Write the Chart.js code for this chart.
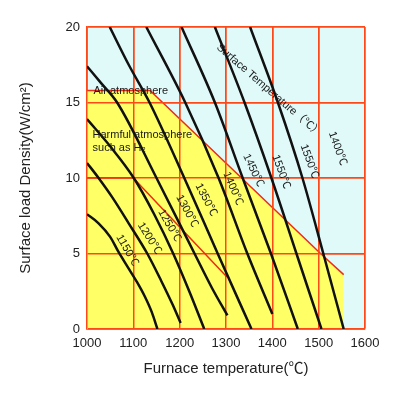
<!DOCTYPE html>
<html>
<head>
<meta charset="utf-8">
<script src="https://cdn.jsdelivr.net/npm/chart.js@4"></script>
<style>
    html, body { margin: 0; padding: 0; background: #fff; }
</style>
</head>
<body>
<canvas id="lineChart" width="400" height="396"></canvas>
<script>
// Trục
var xTicks = [1000, 1100, 1200, 1300, 1400, 1500, 1600];
var yTicks = [0, 5, 10, 15, 20];

// Các đường nhiệt độ bề mặt: x = nhiệt độ lò, y = mật độ tải bề mặt
var c1150X = [1000, 1025, 1050, 1068, 1088, 1108, 1124, 1140, 1152];
var c1150Y = [7.6, 7.0, 6.1, 5.1, 4.1, 3.1, 2.2, 1.1, 0];
var c1200X = [1000, 1025, 1055, 1090, 1130, 1160, 1185, 1202];
var c1200Y = [11.0, 10.0, 8.7, 7.0, 5.0, 3.2, 1.6, 0.4];
var c1250X = [1000, 1050, 1101, 1145, 1186, 1222, 1253];
var c1250Y = [13.9, 12.1, 10.0, 7.6, 5.0, 2.4, 0];
var c1300X = [1000, 1030, 1065, 1150, 1232, 1270, 1303];
var c1300Y = [17.4, 16.3, 15.0, 10.0, 5.0, 2.7, 0.9];
var c1350X = [1049, 1090, 1135, 1210, 1282, 1355];
var c1350Y = [20, 17.5, 15, 10, 5, 0];
var c1400X = [1128, 1212, 1284, 1346, 1400];
var c1400Y = [20, 15, 10, 5, 1.0];
var c1450X = [1204, 1276, 1336, 1397, 1455];
var c1450Y = [20, 15, 10, 5, 0];
var c1500X = [1276, 1340, 1398, 1452, 1506];
var c1500Y = [20, 15, 10, 5, 0];
var c1550X = [1352, 1412, 1465, 1510, 1554];
var c1550Y = [20, 15, 10, 5, 0];

// Vùng không khí (vàng) và giới hạn khí có hại
var airX = [1000, 1136, 1504, 1554];
var airY = [15.8, 15.8, 5.0, 3.6];
var harmX = [1000, 1100, 1302];
var harmY = [10, 10, 3.45];

// Nhãn chữ trên biểu đồ
var labelTexts = ['1150℃', '1200℃', '1250℃', '1300℃', '1350℃', '1400℃', '1450℃', '1550℃', '1550℃', '1400℃'];
var labelX = [1087, 1135, 1178, 1216, 1257, 1315, 1359, 1419, 1480, 1541];
var labelY = [5.2, 6.0, 6.85, 7.8, 8.55, 9.3, 10.5, 10.4, 11.1, 11.95];
var labelAngle = [60, 58, 60, 62, 63, 67, 65, 70, 70, 70];

var FONT = '"Liberation Sans", Arial, "Noto Sans CJK SC", sans-serif';
var GRID = 'rgb(255, 72, 24)';

function pts(xs, ys) {
    return xs.map(function (x, i) { return { x: x, y: ys[i] }; });
}

function curve(xs, ys) {
    return {
        data: pts(xs, ys),
        borderColor: '#111',
        borderWidth: 2.5,
        pointRadius: 0,
        fill: false,
        cubicInterpolationMode: 'monotone',
        order: 0
    };
}

// Nền xanh nhạt, lưới vẽ đè lên vùng vàng, và các nhãn chữ
var extrasPlugin = {
    id: 'extras',
    beforeDraw: function (chart) {
        var a = chart.chartArea, ctx = chart.ctx;
        ctx.save();
        ctx.fillStyle = 'rgb(224, 250, 250)';
        ctx.fillRect(a.left, a.top, a.right - a.left, a.bottom - a.top);
        ctx.restore();
    },
    afterDatasetDraw: function (chart, args) {
        if (args.index === 0) {
            chart.scales.x.drawGrid(chart.chartArea);
            chart.scales.y.drawGrid(chart.chartArea);
        }
    },
    afterDatasetsDraw: function (chart) {
        var ctx = chart.ctx, sx = chart.scales.x, sy = chart.scales.y;
        ctx.save();
        ctx.fillStyle = '#1a1a1a';
        ctx.textAlign = 'center';
        ctx.textBaseline = 'middle';
        ctx.font = '11px ' + FONT;
        for (var i = 0; i < labelTexts.length; i++) {
            ctx.save();
            ctx.translate(sx.getPixelForValue(labelX[i]), sy.getPixelForValue(labelY[i]));
            ctx.rotate(labelAngle[i] * Math.PI / 180);
            ctx.fillText(labelTexts[i], 0, 0);
            ctx.restore();
        }
        ctx.save();
        ctx.translate(sx.getPixelForValue(1393), sy.getPixelForValue(15.8));
        ctx.rotate(41 * Math.PI / 180);
        ctx.fillText('Surface Temperature（℃）', 0, 0);
        ctx.restore();
        ctx.textAlign = 'left';
        ctx.fillText('Air atmosphere', sx.getPixelForValue(1014), sy.getPixelForValue(15.77));
        ctx.fillText('Harmful atmosphere', sx.getPixelForValue(1012), sy.getPixelForValue(12.84));
        ctx.fillText('such as H₂', sx.getPixelForValue(1012), sy.getPixelForValue(12.0));
        ctx.restore();
    }
};

function plainTick(v) { return String(v); }

var ctx = document.getElementById('lineChart').getContext('2d');
var currentChart = new Chart(ctx, {
    type: 'line',
    data: {
        datasets: [
            {
                data: pts(airX, airY),
                borderColor: 'rgb(235, 45, 20)',
                borderWidth: 1.5,
                backgroundColor: 'rgb(255, 255, 102)',
                pointRadius: 0,
                fill: 'origin',
                tension: 0,
                order: 2
            },
            {
                data: pts(harmX, harmY),
                borderColor: 'rgb(235, 45, 20)',
                borderWidth: 1.5,
                pointRadius: 0,
                fill: false,
                tension: 0,
                order: 1
            },
            curve(c1150X, c1150Y),
            curve(c1200X, c1200Y),
            curve(c1250X, c1250Y),
            curve(c1300X, c1300Y),
            curve(c1350X, c1350Y),
            curve(c1400X, c1400Y),
            curve(c1450X, c1450Y),
            curve(c1500X, c1500Y),
            curve(c1550X, c1550Y)
        ]
    },
    options: {
        responsive: false,
        animation: false,
        layout: { padding: { top: 27, right: 35, left: 0, bottom: 0 } },
        plugins: {
            legend: { display: false },
            tooltip: { enabled: false }
        },
        scales: {
            x: {
                type: 'linear',
                min: 1000,
                max: 1600,
                afterBuildTicks: function (s) { s.ticks = xTicks.map(function (v) { return { value: v }; }); },
                afterFit: function (s) { s.height = 67; },
                grid: { color: GRID, lineWidth: 1.5, drawTicks: false },
                border: { color: GRID, width: 1.5 },
                ticks: { padding: 7, color: '#222', font: { size: 13, family: FONT }, callback: plainTick },
                title: {
                    display: true,
                    text: 'Furnace temperature(℃)',
                    color: '#222',
                    font: { size: 15, family: FONT },
                    padding: { top: 18, bottom: 18 }
                }
            },
            y: {
                type: 'linear',
                min: 0,
                max: 20,
                afterBuildTicks: function (s) { s.ticks = yTicks.map(function (v) { return { value: v }; }); },
                afterFit: function (s) { s.width = 87; },
                grid: { color: GRID, lineWidth: 1.5, drawTicks: false },
                border: { color: GRID, width: 1.5 },
                ticks: { padding: 7, color: '#222', font: { size: 13, family: FONT }, callback: plainTick },
                title: {
                    display: true,
                    text: 'Surface load Density(W/cm²)',
                    color: '#222',
                    font: { size: 15, family: FONT },
                    padding: { top: 17, bottom: 17 }
                }
            }
        }
    },
    plugins: [extrasPlugin]
});
</script>
</body>
</html>
